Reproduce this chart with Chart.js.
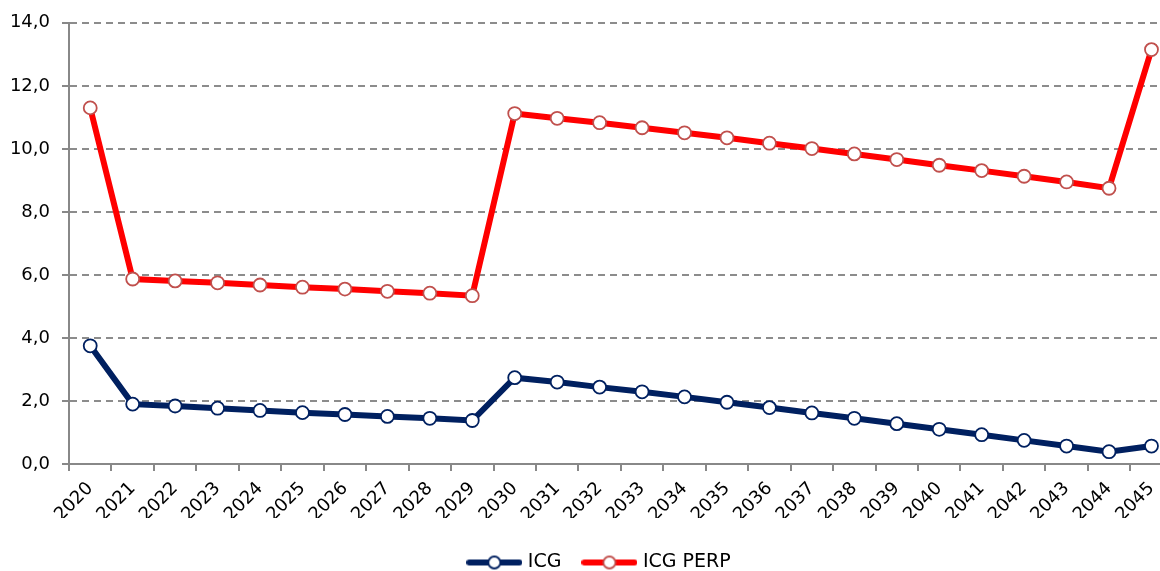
<!DOCTYPE html>
<html>
<head>
<meta charset="utf-8">
<script src="https://cdn.jsdelivr.net/npm/chart.js@4"></script>
<style>
html,body{margin:0;padding:0;background:#fff;overflow:hidden;width:1160px;height:571px;}
#wrap{width:1181px;height:571px;}
</style>
</head>
<body>
<div id="wrap"><canvas id="c" width="1181" height="571"></canvas></div>
<script>
const years = ["2020","2021","2022","2023","2024","2025","2026","2027","2028","2029","2030","2031","2032","2033","2034","2035","2036","2037","2038","2039","2040","2041","2042","2043","2044","2045"];
const icg = [3.75,1.90,1.84,1.77,1.70,1.63,1.57,1.51,1.45,1.38,2.74,2.60,2.44,2.29,2.13,1.96,1.79,1.62,1.45,1.28,1.10,0.93,0.75,0.57,0.39,0.57];
const icgPerp = [11.30,5.87,5.81,5.75,5.68,5.61,5.55,5.48,5.42,5.34,11.12,10.97,10.83,10.67,10.51,10.35,10.18,10.01,9.84,9.66,9.48,9.31,9.13,8.95,8.75,13.15];
const seriesNames = ["ICG","ICG PERP"];
const yTicks = [0,2,4,6,8,10,12,14];

function legendIcon(lineColor, ptBorder){
  const cv = document.createElement('canvas');
  cv.width = 56; cv.height = 16;
  const g = cv.getContext('2d');
  g.strokeStyle = lineColor; g.lineWidth = 6; g.lineCap = 'round';
  g.beginPath(); g.moveTo(3,8); g.lineTo(53,8); g.stroke();
  g.beginPath(); g.arc(28,8,6,0,Math.PI*2);
  g.fillStyle = '#fff'; g.fill();
  g.lineWidth = 1.8; g.strokeStyle = ptBorder; g.stroke();
  return cv;
}

const FONT = "'DejaVu Sans', Verdana, sans-serif";

new Chart(document.getElementById('c'), {
  type: 'line',
  data: {
    labels: years,
    datasets: [
      {label: seriesNames[0], data: icg, borderColor:'#002060', backgroundColor:'#ffffff', borderWidth:6,
       pointRadius:6.5, pointBorderWidth:1.8, pointBorderColor:'#002060', pointBackgroundColor:'#ffffff',
       pointStyle: 'circle', tension:0},
      {label: seriesNames[1], data: icgPerp, borderColor:'#ff0000', backgroundColor:'#ffffff', borderWidth:6,
       pointRadius:6.5, pointBorderWidth:1.8, pointBorderColor:'#c0504d', pointBackgroundColor:'#ffffff',
       pointStyle: 'circle', tension:0}
    ]
  },
  options: {
    responsive:false,
    animation:false,
    layout:{padding:{top:21,left:0,right:0,bottom:0}},
    plugins:{
      legend:{
        position:'bottom',
        labels:{
          usePointStyle:true,
          pointStyleWidth:48,
          boxHeight:16,
          padding:24,
          color:'#000',
          font:{family:FONT, size:19},
          generateLabels:(chart)=>[
            {text:seriesNames[0], pointStyle:legendIcon('#002060','#002060'), datasetIndex:0, lineWidth:0, fontColor:'#000'},
            {text:seriesNames[1], pointStyle:legendIcon('#ff0000','#c0504d'), datasetIndex:1, lineWidth:0, fontColor:'#000'}
          ]
        }
      },
      tooltip:{enabled:false}
    },
    scales:{
      x:{
        offset:true,
        grid:{offset:true, drawOnChartArea:false, drawTicks:true, tickLength:7, color:'#888', lineWidth:2},
        border:{display:true, color:'#888', width:2},
        ticks:{minRotation:45, maxRotation:45, autoSkip:false, padding:7, color:'#000', font:{family:FONT, size:18}},
        afterFit:(s)=>{s.height = 54;}
      },
      y:{
        min:0, max:14,
        afterBuildTicks:(s)=>{s.ticks = yTicks.map(v=>({value:v}));},
        grid:{color:'#8c8c8c', lineWidth:2, drawTicks:true, tickLength:7, tickColor:'#888', tickBorderDash:[]},
        border:{display:true, color:'#888', width:2, dash:[7,5]},
        ticks:{padding:12, color:'#000', font:{family:FONT, size:18},
          callback:(v)=>Number(v).toFixed(1).replace('.',',')},
        afterFit:(s)=>{s.width = 69;}
      }
    }
  },
  plugins:[{
    id:'shiftLegend',
    afterLayout(chart){ if(chart.legend){ chart.legend.left += 10; chart.legend.right += 10; chart.legend.top += 11; chart.legend.bottom += 11; } }
  }]
});
</script>
</body>
</html>
